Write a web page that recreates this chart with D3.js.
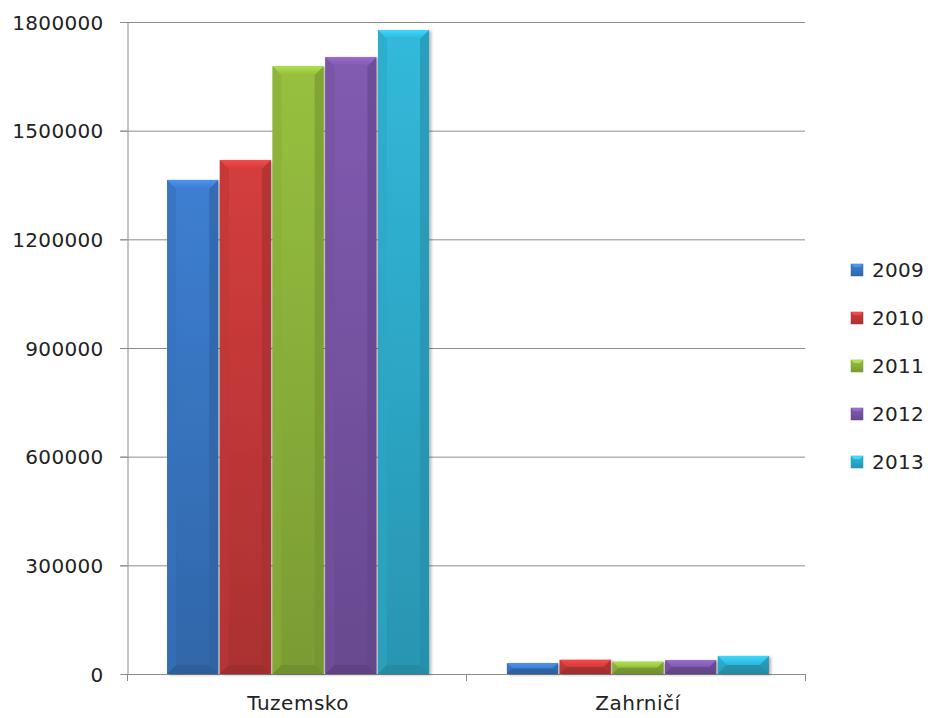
<!DOCTYPE html>
<html><head><meta charset="utf-8">
<script src="https://cdn.jsdelivr.net/npm/d3@7"></script>
<style>body{margin:0;background:#fff}text{font-family:"DejaVu Sans",sans-serif;fill:#222}</style>
</head><body><svg id="c" width="928" height="718"></svg>
<script>
const categories = ["Tuzemsko", "Zahrničí"];
const years = ["2009", "2010", "2011", "2012", "2013"];
const values2009 = [1364000, 30000];
const values2010 = [1419000, 39000];
const values2011 = [1678000, 34000];
const values2012 = [1703000, 38000];
const values2013 = [1778000, 50000];
const yTicks = [0, 300000, 600000, 900000, 1200000, 1500000, 1800000];
const colors = ["#3a78c6", "#c93a3a", "#8fb63c", "#7a56a8", "#2fafd0"];
const series = [values2009, values2010, values2011, values2012, values2013];

const svg = d3.select("#c");
const m = {l:127, r:805, t:22, b:674};
const x0 = d3.scaleBand().domain(categories).range([m.l + 2, m.r + 2]).paddingInner(0.229).paddingOuter(0.112);
const x1 = d3.scaleBand().domain(years).range([0, x0.bandwidth()]).paddingInner(0.03).paddingOuter(0);
const y = d3.scaleLinear().domain([0, 1800000]).range([m.b, m.t]);

const defs = svg.append("defs");
colors.forEach((c, i) => {
  const g = defs.append("linearGradient").attr("id", "g"+i).attr("x1",0).attr("y1",0).attr("x2",0).attr("y2",1);
  g.append("stop").attr("offset", "0%").attr("stop-color", d3.color(c).brighter(0.15));
  g.append("stop").attr("offset", "100%").attr("stop-color", d3.color(c).darker(0.45));
  const h = defs.append("linearGradient").attr("id", "h"+i).attr("x1",0).attr("y1",0).attr("x2",0).attr("y2",1);
  h.append("stop").attr("offset", "0%").attr("stop-color", d3.color(c).brighter(0.6));
  h.append("stop").attr("offset", "100%").attr("stop-color", d3.color(c).brighter(0.1));
});
const f = defs.append("filter").attr("id","sh").attr("x","-10%").attr("y","-10%").attr("width","130%").attr("height","130%");
f.append("feDropShadow").attr("dx",2).attr("dy",1).attr("stdDeviation",1.5).attr("flood-color","#000").attr("flood-opacity",0.3);

// gridlines
svg.append("g").selectAll("line").data(yTicks.slice(1)).join("line")
  .attr("x1", m.l - 7).attr("x2", m.r).attr("y1", d => y(d)+0.5).attr("y2", d => y(d)+0.5)
  .attr("stroke", "#8c8c8c").attr("stroke-width", 1);

// y axis
const ya = svg.append("g").attr("transform", `translate(${m.l+0.5},0)`)
  .call(d3.axisLeft(y).tickValues(yTicks).tickSize(7).tickPadding(17).tickFormat(d3.format("d")));
ya.select(".domain").attr("stroke", "#8c8c8c");
ya.selectAll(".tick line").attr("stroke", "#8c8c8c");
ya.selectAll("text").style("font-family", '"DejaVu Sans",sans-serif').style("font-size", "20px").attr("fill", "#222").attr("dy", "0.35em").attr("letter-spacing", "0.3px");

// x axis
const xa = svg.append("g").attr("transform", `translate(0,${m.b+0.5})`)
  .call(d3.axisBottom(x0).tickSize(0).tickPadding(21));
xa.select(".domain").attr("stroke", "#8c8c8c").attr("d", `M${m.l},0H${m.r}`);
xa.selectAll("text").style("font-family", '"DejaVu Sans",sans-serif').style("font-size", "20px").attr("fill", "#222").attr("letter-spacing", "0.5px");
svg.append("g").selectAll("line").data([m.l, (m.l+m.r)/2, m.r]).join("line")
  .attr("x1", d => d+0.5).attr("x2", d => d+0.5).attr("y1", m.b).attr("y2", m.b+7).attr("stroke", "#8c8c8c");

// bars
const groups = svg.append("g").selectAll("g").data(categories).join("g")
  .attr("transform", d => `translate(${x0(d)},0)`);
groups.each(function(cat, ci) {
  const g = d3.select(this);
  years.forEach((yr, si) => {
    const v = series[si][ci];
    const bx = x1(yr), bw = x1.bandwidth();
    const top = y(v), h = m.b - top;
    const b = Math.min(9, h / 2, bw / 4);
    const bg = g.append("g").attr("filter", "url(#sh)");
    bg.append("rect").attr("x", bx).attr("y", top).attr("width", bw).attr("height", h).attr("fill", `url(#g${si})`);
    bg.append("path").attr("d", `M${bx},${top}H${bx+bw}L${bx+bw-b},${top+b}H${bx+b}Z`).attr("fill", `url(#h${si})`);
    bg.append("path").attr("d", `M${bx},${top}L${bx+b},${top+b}V${m.b-b}L${bx},${m.b}Z`).attr("fill", d3.color(colors[si]).darker(0.15)).attr("opacity", 0.6);
    bg.append("path").attr("d", `M${bx+bw},${top}L${bx+bw-b},${top+b}V${m.b-b}L${bx+bw},${m.b}Z`).attr("fill", d3.color(colors[si]).darker(0.6)).attr("opacity", 0.6);
    bg.append("path").attr("d", `M${bx},${m.b}L${bx+b},${m.b-b}H${bx+bw-b}L${bx+bw},${m.b}Z`).attr("fill", d3.color(colors[si]).darker(0.9)).attr("opacity", 0.5);
  });
});

// legend
const lg = svg.append("g").attr("transform", "translate(851,270)");
years.forEach((yr, i) => {
  const it = lg.append("g").attr("transform", `translate(0,${i*48})`);
  it.append("rect").attr("x", 0).attr("y", -6).attr("width", 12).attr("height", 12).attr("fill", `url(#g${i})`).attr("stroke", d3.color(colors[i]).darker(0.5)).attr("stroke-width", 0.5);
  it.append("path").attr("d", "M0,-6H12L9,-3H3Z").attr("fill", d3.color(colors[i]).brighter(0.6));
  it.append("text").attr("x", 21).attr("y", 0).attr("dy", "0.35em").style("font-size", "20px").attr("letter-spacing", "0.3px").text(yr);
});
</script></body></html>
